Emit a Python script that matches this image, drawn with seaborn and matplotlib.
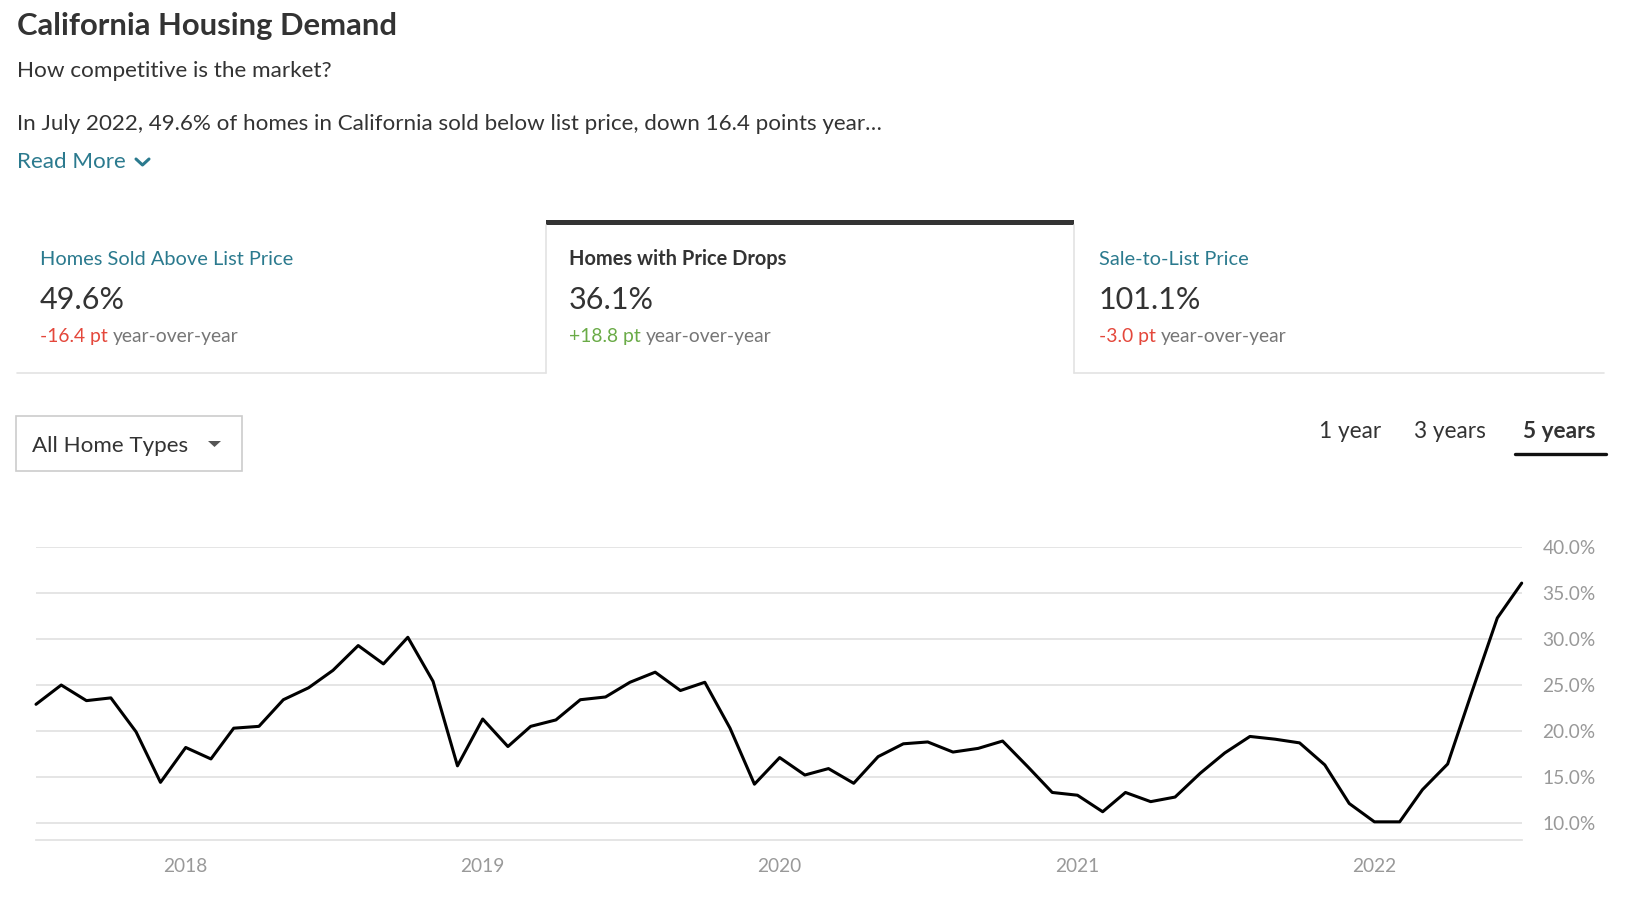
import pandas as pd
import numpy as np
import matplotlib
matplotlib.use("Agg")
import matplotlib.pyplot as plt
from matplotlib.lines import Line2D
from matplotlib.patches import Rectangle, Polygon
import seaborn as sns

# ======================
# DATA
# ======================
months = pd.date_range("2017-07-01", periods=61, freq="MS")
price_drops = [22.9, 25.0, 23.3, 23.6, 19.9, 14.4, 18.2, 16.95, 20.3, 20.5,
               23.4, 24.7, 26.6, 29.3, 27.3, 30.2, 25.4, 16.2, 21.3, 18.3,
               20.5, 21.2, 23.4, 23.7, 25.3, 26.4, 24.4, 25.3, 20.3, 14.2,
               17.1, 15.2, 15.9, 14.3, 17.2, 18.6, 18.8, 17.7, 18.1, 18.9,
               16.1, 13.3, 13.0, 11.2, 13.3, 12.3, 12.8, 15.4, 17.6, 19.4,
               19.1, 18.7, 16.3, 12.1, 10.1, 10.1, 13.6, 16.4, 24.3, 32.3,
               36.1]
y_ticks = [10, 15, 20, 25, 30, 35, 40]
year_ticks = ["2018", "2019", "2020", "2021", "2022"]

card_titles = ["Homes Sold Above List Price", "Homes with Price Drops", "Sale-to-List Price"]
card_values = ["49.6%", "36.1%", "101.1%"]
card_changes = ["-16.4 pt", "+18.8 pt", "-3.0 pt"]
range_labels = ["1 year", "3 years", "5 years"]

df = pd.DataFrame({"month": months, "pct": price_drops})

# ======================
# STYLE
# ======================
sns.set_theme(style="white")
plt.rcParams["font.family"] = ["Lato", "DejaVu Sans"]

W, H = 1633, 901
TEAL = "#2b7a8e"
DARK = "#333333"
GRAY = "#767676"
LIGHT = "#e3e3e3"
RED = "#e4473b"
GREEN = "#6aab47"

fig = plt.figure(figsize=(W / 100, H / 100), dpi=100)


def fx(x):
    return x / W


def fy(y):
    return 1 - y / H


# header texts
fig.text(fx(17), fy(35), "California Housing Demand", fontsize=22.3, fontweight="bold",
         color=DARK, va="baseline")
fig.text(fx(17), fy(77), "How competitive is the market?", fontsize=16.2, color=DARK, va="baseline")
fig.text(fx(17), fy(130), "In July 2022, 49.6% of homes in California sold below list price, "
         "down 16.4 points year\u2026", fontsize=16.1, color=DARK, va="baseline")
fig.text(fx(17), fy(168), "Read More", fontsize=16.1, color=TEAL, va="baseline")
fig.add_artist(Line2D([fx(136), fx(142.5), fx(149)], [fy(159), fy(165), fy(159)],
                      color=TEAL, lw=2.2, solid_capstyle="round", solid_joinstyle="round"))

# cards
card_x = [40, 569, 1099]
change_cols = [RED, GREEN, RED]
fig.add_artist(Line2D([fx(17), fx(546)], [fy(373), fy(373)], color=LIGHT, lw=1.2))
fig.add_artist(Line2D([fx(1074), fx(1604)], [fy(373), fy(373)], color=LIGHT, lw=1.2))
fig.add_artist(Line2D([fx(546), fx(546)], [fy(225), fy(373)], color=LIGHT, lw=1.2))
fig.add_artist(Line2D([fx(1074), fx(1074)], [fy(225), fy(373)], color=LIGHT, lw=1.2))
fig.add_artist(Rectangle((fx(546), fy(225)), fx(1074) - fx(546), fy(220) - fy(225),
                         facecolor=DARK, edgecolor="none"))

fig.canvas.draw()
renderer = fig.canvas.get_renderer()
for i in range(3):
    fig.text(fx(card_x[i]), fy(265), card_titles[i], fontsize=14.4,
             color=DARK if i == 1 else TEAL, fontweight="bold" if i == 1 else "normal",
             va="baseline")
    fig.text(fx(card_x[i]), fy(309), card_values[i], fontsize=22, color=DARK, va="baseline")
    t = fig.text(fx(card_x[i]), fy(342), card_changes[i], fontsize=13.9,
                 color=change_cols[i], va="baseline")
    bb = t.get_window_extent(renderer)
    fig.text(fx(bb.x1 + 5), fy(342), "year-over-year", fontsize=13.9, color=GRAY, va="baseline")

# dropdown
fig.add_artist(Rectangle((fx(16), fy(471)), fx(242) - fx(16), fy(416) - fy(471),
                         facecolor="white", edgecolor="#cccccc", lw=1.2))
fig.text(fx(32), fy(452), "All Home Types", fontsize=16.1, color=DARK, va="baseline")
fig.add_artist(Polygon([(fx(208), fy(441)), (fx(221), fy(441)), (fx(214.5), fy(447))],
                       closed=True, facecolor="#555555", edgecolor="none"))

# range selector
range_x = [1319, 1414, 1523]
for i in range(3):
    fig.text(fx(range_x[i]), fy(438), range_labels[i], fontsize=16.3, color=DARK,
             fontweight="bold" if i == 2 else "normal", va="baseline")
fig.add_artist(Line2D([fx(1515), fx(1606)], [fy(454), fy(454)], color="#111111", lw=2.4))

# ======================
# CHART
# ======================
ax = fig.add_axes([fx(36), fy(840.3), fx(1521.7) - fx(36), fy(547.3) - fy(840.3)])
sns.lineplot(data=df, x="month", y="pct", ax=ax, color="black", linewidth=2.2)

ax.set_xlim(months[0], months[-1])
ax.set_ylim(8.09, 40.0)
ax.set_yticks(y_ticks)
ax.set_yticklabels([f"{v:.1f}%" for v in y_ticks])
ax.yaxis.tick_right()
ax.set_xticks([pd.Timestamp(f"{y}-01-01") for y in year_ticks])
ax.set_xticklabels(year_ticks)
ax.tick_params(axis="y", length=0, pad=15, labelsize=13.8, labelcolor="#999999")
ax.tick_params(axis="x", length=0, pad=13, labelsize=13.8, labelcolor="#999999")
ax.set_xlabel("")
ax.set_ylabel("")
ax.grid(axis="y", color=LIGHT, lw=1.3)
ax.set_axisbelow(True)
for s in ["top", "left", "right"]:
    ax.spines[s].set_visible(False)
ax.spines["bottom"].set_color(LIGHT)
ax.spines["bottom"].set_linewidth(1.3)
for line in ax.get_lines():
    line.set_clip_on(False)

fig.savefig("out.png", dpi=100)
